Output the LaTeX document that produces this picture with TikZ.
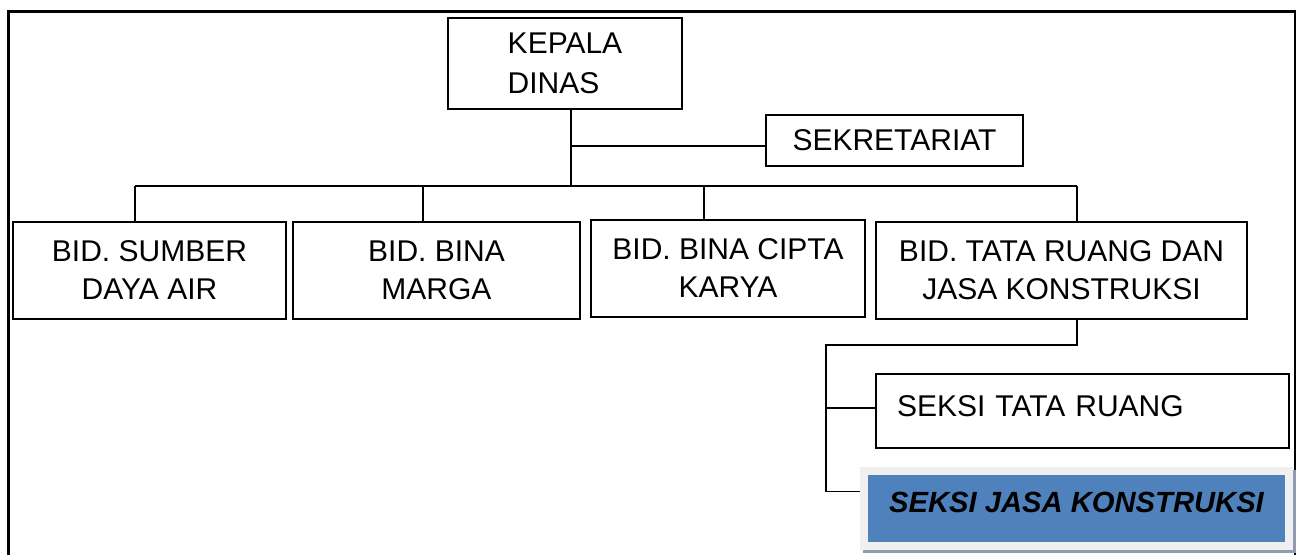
\documentclass[tikz,border=0pt]{standalone}
\usepackage{fontspec}
\setmainfont{Liberation Sans}
\usepackage{tikz}
\usetikzlibrary{positioning}
\definecolor{jasablue}{RGB}{79,129,189}
\definecolor{framegray}{RGB}{240,240,240}
\definecolor{shadowgray}{RGB}{145,155,175}

\begin{document}
\begin{tikzpicture}[x=0.5pt,y=-0.5pt,unit/.style={draw,line width=0.75pt,align=center,font=\fontsize{15}{19}\selectfont,inner sep=2pt},link/.style={line width=0.7pt},jasa/.style={fill=jasablue,draw=framegray,line width=4pt,preaction={draw=shadowgray,line width=4pt,transform canvas={shift={(1.5pt,-1.5pt)}}},font=\fontsize{14.6}{17}\selectfont\bfseries\itshape,text height=10pt,text depth=6pt}]
\useasboundingbox (0,0) rectangle (1298,554);
% outer frame, open at the bottom
\draw[line width=1.4pt] (8.5,560) |- (1295,11.5) -- (1295,560);
\node[unit,align=left,minimum width=117pt,minimum height=45.5pt,font=\fontsize{15}{20}\selectfont](kepala) at (565,63.5){KEPALA\\DINAS};
\node[unit,minimum width=128.5pt,minimum height=25.5pt](sek) at (894.5,140.5){SEKRETARIAT};
\node[unit,minimum width=136.5pt,minimum height=48.5pt](sda) at (149.5,270.5){BID. SUMBER\\DAYA AIR};
\node[unit,minimum width=143.5pt,minimum height=48.5pt](marga) at (436.5,270.5){BID. BINA\\MARGA};
\node[unit,minimum width=137pt,minimum height=48.5pt](cipta) at (728,268.5){BID. BINA CIPTA\\KARYA};
\node[unit,minimum width=185.5pt,minimum height=48.5pt](tr) at (1061.5,270.5){BID. TATA RUANG DAN\\JASA KONSTRUKSI};
\node[unit,align=left,text width=185.5pt,inner xsep=10.5pt,minimum height=37pt,text height=11pt,text depth=6pt](tata) at (1082.5,411){SEKSI TATA RUANG};
\node[jasa,minimum width=212.5pt,minimum height=37.5pt](konst) at (1076.5,508.5){SEKSI JASA KONSTRUKSI};
% connectors
\coordinate (trunk) at (571,186); \coordinate (d1) at (135,186); \coordinate (d2) at (423,186); \coordinate (d3) at (704,186); \coordinate (d4) at (1077,186); \coordinate (spine) at (826,345);
\coordinate (jend) at ([yshift=8.5pt]konst.west); \coordinate (send) at ([yshift=-2.75pt]sek.west); \coordinate (tend) at ([yshift=1.5pt]tata.west);
\draw[link](kepala.south -| trunk)--(trunk); \draw[link](send)--(send -| trunk);
\draw[link](d1)--(d4);
\draw[link](d1)--(d1 |- sda.north); \draw[link](d2)--(d2 |- marga.north); \draw[link](d3)--(d3 |- cipta.north); \draw[link](d4)--(d4 |- tr.north);
\draw[link](tr.south -| d4)|-(spine)--(spine |- jend)--(jend);
\draw[link](tend)--(tend -| spine);
\end{tikzpicture}
\end{document}
